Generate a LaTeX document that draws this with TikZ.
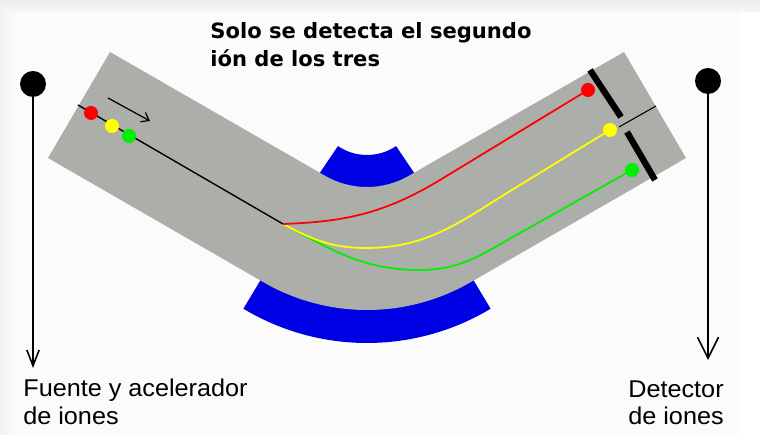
\documentclass[tikz,border=0pt]{standalone}
\usepackage{fontspec}
\usetikzlibrary{calc,arrows.meta}
\newfontfamily\titlefont{DejaVu Sans}
\newfontfamily\labelfont[FakeStretch=1.04]{Liberation Sans}
\definecolor{paper}{RGB}{250,251,250}
\definecolor{tubegray}{RGB}{172,174,170}
\definecolor{magblue}{RGB}{0,0,228}
\definecolor{ionred}{RGB}{255,0,0}
\definecolor{ionyellow}{RGB}{255,255,0}
\definecolor{iongreen}{RGB}{0,240,0}
\tikzset{
  ion/.style={line width=1pt},
  slitbar/.style={line width=3.6pt},
  pin/.style={line width=0.9pt},
  lbl/.style={anchor=base west,inner sep=0pt,font=\labelfont\fontsize{13.8}{15}\selectfont},
  ttl/.style={anchor=base west,inner sep=0pt,font=\titlefont\bfseries\fontsize{12}{14}\selectfont}
}

\begin{document}
\begin{tikzpicture}[x=0.02cm,y=0.02cm]
	\useasboundingbox (0,0) rectangle (760,435);
	% page with a soft shadow on top and left
	\fill[white] (0,0) rectangle (760,435);
	\fill[paper] (14,0) rectangle (740,423);
	\shade[top color=black!8,bottom color=black!3] (0,423) rectangle (760,435);
	\shade[left color=black!5,right color=black!2] (0,0) rectangle (14,423);

	% centre of the bend
	\coordinate (C) at (367,332);

	% magnet poles
	\fill[magblue] ($(C)+(236:52)$) arc[start angle=236,end angle=304,radius=52]
		-- ($(C)+(304:86)$) arc[start angle=304,end angle=236,radius=86] -- cycle;
	\fill[magblue] ($(C)+(239:205)$) arc[start angle=239,end angle=301,radius=205]
		-- ($(C)+(301:240)$) arc[start angle=301,end angle=239,radius=240] -- cycle;

	% bent tube
	\fill[tubegray] (110,383) -- ($(C)+(240:84)$) arc[start angle=240,end angle=300,radius=84]
		-- (624,383) -- (686,277) -- ($(C)+(300:207)$) arc[start angle=300,end angle=240,radius=207]
		-- (48,277) -- cycle;

	% beam and the three ions
	\coordinate (bend) at (283,211);
	\draw[line width=0.8pt] (78,330) -- (bend);
	\draw[line width=0.7pt,-{Straight Barb[length=4pt,width=6pt]}] (108,337) -- (150,314);
	\draw[ion,iongreen] (bend) to[out=-28,in=180] (420,165) to[out=0,in=209] (520,202) -- (632,265);
	\draw[ion,ionyellow] (bend) to[out=-28,in=180] (366,187) to[out=0,in=211] (520,250) -- (610,305);
	\draw[ion,ionred] (bend) to[out=2,in=211] (440,255) -- (588,345);
	\fill[ionred] (91,322) circle[radius=7];
	\fill[ionyellow] (112,309) circle[radius=7];
	\fill[iongreen] (129,299) circle[radius=7];
	\fill[ionred] (588,345) circle[radius=7];
	\fill[ionyellow] (610,305) circle[radius=7];
	\fill[iongreen] (632,265) circle[radius=7];

	% slit in front of the detector
	\draw[slitbar] (590,365) -- (621,318);
	\draw[slitbar] (627,303) -- (655,255);
	\draw[line width=0.6pt] (619,308) -- (656,329);

	% source and detector
	\coordinate (src) at (33,351);
	\coordinate (srctip) at (33,67);
	\coordinate (det) at (708,354);
	\coordinate (dettip) at (708,75);
	\fill (src) circle[radius=13];
	\fill (det) circle[radius=13];
	\draw[pin,-{Straight Barb[length=9pt,width=7pt]}] (src) -- (srctip);
	\draw[pin,-{Straight Barb[length=12pt,width=12pt]}] (det) -- (dettip);

	\node[ttl] (title1) at (210,396.5) {Solo se detecta el segundo};
	\node[ttl] (title2) at (210,368.3) {ión de los tres};
	\node[lbl] (src1) at (23,38) {Fuente y acelerador};
	\node[lbl] (src2) at (23,10) {de iones};
	\node[lbl] (det1) at (628,37) {Detector};
	\node[lbl] (det2) at (628,10) {de iones};
\end{tikzpicture}
\end{document}
